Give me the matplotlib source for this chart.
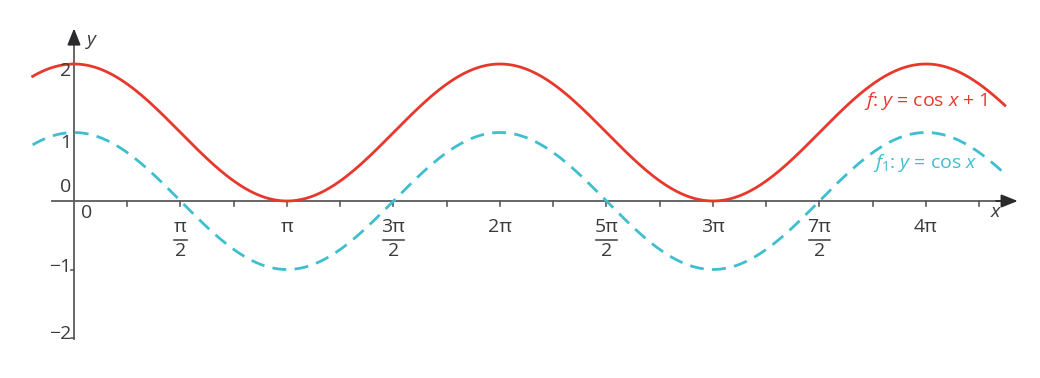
import numpy as np
import matplotlib.pyplot as plt

plt.rcParams['font.family'] = ['Open Sans', 'DejaVu Sans']
plt.rcParams['mathtext.fontset'] = 'custom'
plt.rcParams['mathtext.rm'] = 'Open Sans'
plt.rcParams['mathtext.it'] = 'Open Sans:italic'

RED = '#e8382c'
CYAN = '#3dbfd0'
AXC = '#5a5a5e'
TXT = '#3a3a3a'

# curves (x in radians)
x = np.linspace(-0.61, 13.73, 800)
f1 = np.cos(x)
f = np.cos(x) + 1

# tick labels along x: (multiple of pi, numerator, denominator)
xlabels = [(0.5, 'π', '2'), (1, 'π', None), (1.5, '3π', '2'), (2, '2π', None),
           (2.5, '5π', '2'), (3, '3π', None), (3.5, '7π', '2'), (4, '4π', None)]
xticks = np.arange(1, 18) * np.pi / 4
yticks = [-2, -1]
ylabels = [(1.9, '2'), (0.84, '1'), (0.2, '0'), (-0.96, '−1'), (-1.94, '−2')]

fig = plt.figure(figsize=(10.4, 3.78), dpi=100)
ax = fig.add_axes([0, 0, 1, 1])
ax.set_xlim(-1.0914, 14.248)
ax.set_ylim(-177 / 68.5, 201 / 68.5)
ax.axis('off')

# axes lines + dark arrow heads
ax.plot([-0.33, 13.75], [0, 0], color=AXC, lw=1.3)
ax.plot([0, 0], [-2.02, 2.4], color=AXC, lw=1.3)
ax.annotate('', xy=(13.92, 0), xytext=(13.6, 0),
            arrowprops=dict(arrowstyle='-|>,head_length=1.0,head_width=0.4', color='#2b2b2e', lw=1.3, shrinkA=0, shrinkB=0))
ax.annotate('', xy=(0, 2.52), xytext=(0, 2.3),
            arrowprops=dict(arrowstyle='-|>,head_length=1.0,head_width=0.4', color='#2b2b2e', lw=1.3, shrinkA=0, shrinkB=0))

for t in xticks:
    ax.plot([t, t], [0, -0.075], color=AXC, lw=1.2)
for t in yticks:
    ax.plot([0, -0.045], [t, t], color=AXC, lw=1.2)

ax.plot(x, f, color=RED, lw=2)
ax.plot(x, f1, color=CYAN, lw=2, dashes=(5, 3))

fs = 14
for m, num, den in xlabels:
    xp = m * np.pi
    ax.text(xp, -0.38, num, ha='center', va='center', fontsize=fs, color=TXT)
    if den is not None:
        w = 0.09 if len(num) == 1 else 0.15
        ax.plot([xp - w, xp + w], [-0.575, -0.575], color=TXT, lw=1.1)
        ax.text(xp, -0.73, den, ha='center', va='center', fontsize=fs, color=TXT)
ax.text(0.19, -0.18, '0', ha='center', va='center', fontsize=fs, color=TXT)

for yp, s in ylabels:
    ax.text(-0.04, yp, s, ha='right', va='center', fontsize=fs, color=TXT)

ax.text(0.27, 2.32, r'$y$', ha='center', va='center', fontsize=fs, color=TXT)
ax.text(13.60, -0.16, r'$x$', ha='center', va='center', fontsize=fs, color=TXT)

ax.text(13.47, 1.46, r'$f$: $y$ = cos $x$ + 1', ha='right', va='center', fontsize=fs, color=RED)
ax.text(13.33, 0.55, r'$f_1$: $y$ = cos $x$', ha='right', va='center', fontsize=fs, color=CYAN)

fig.savefig('out.png', dpi=100)
